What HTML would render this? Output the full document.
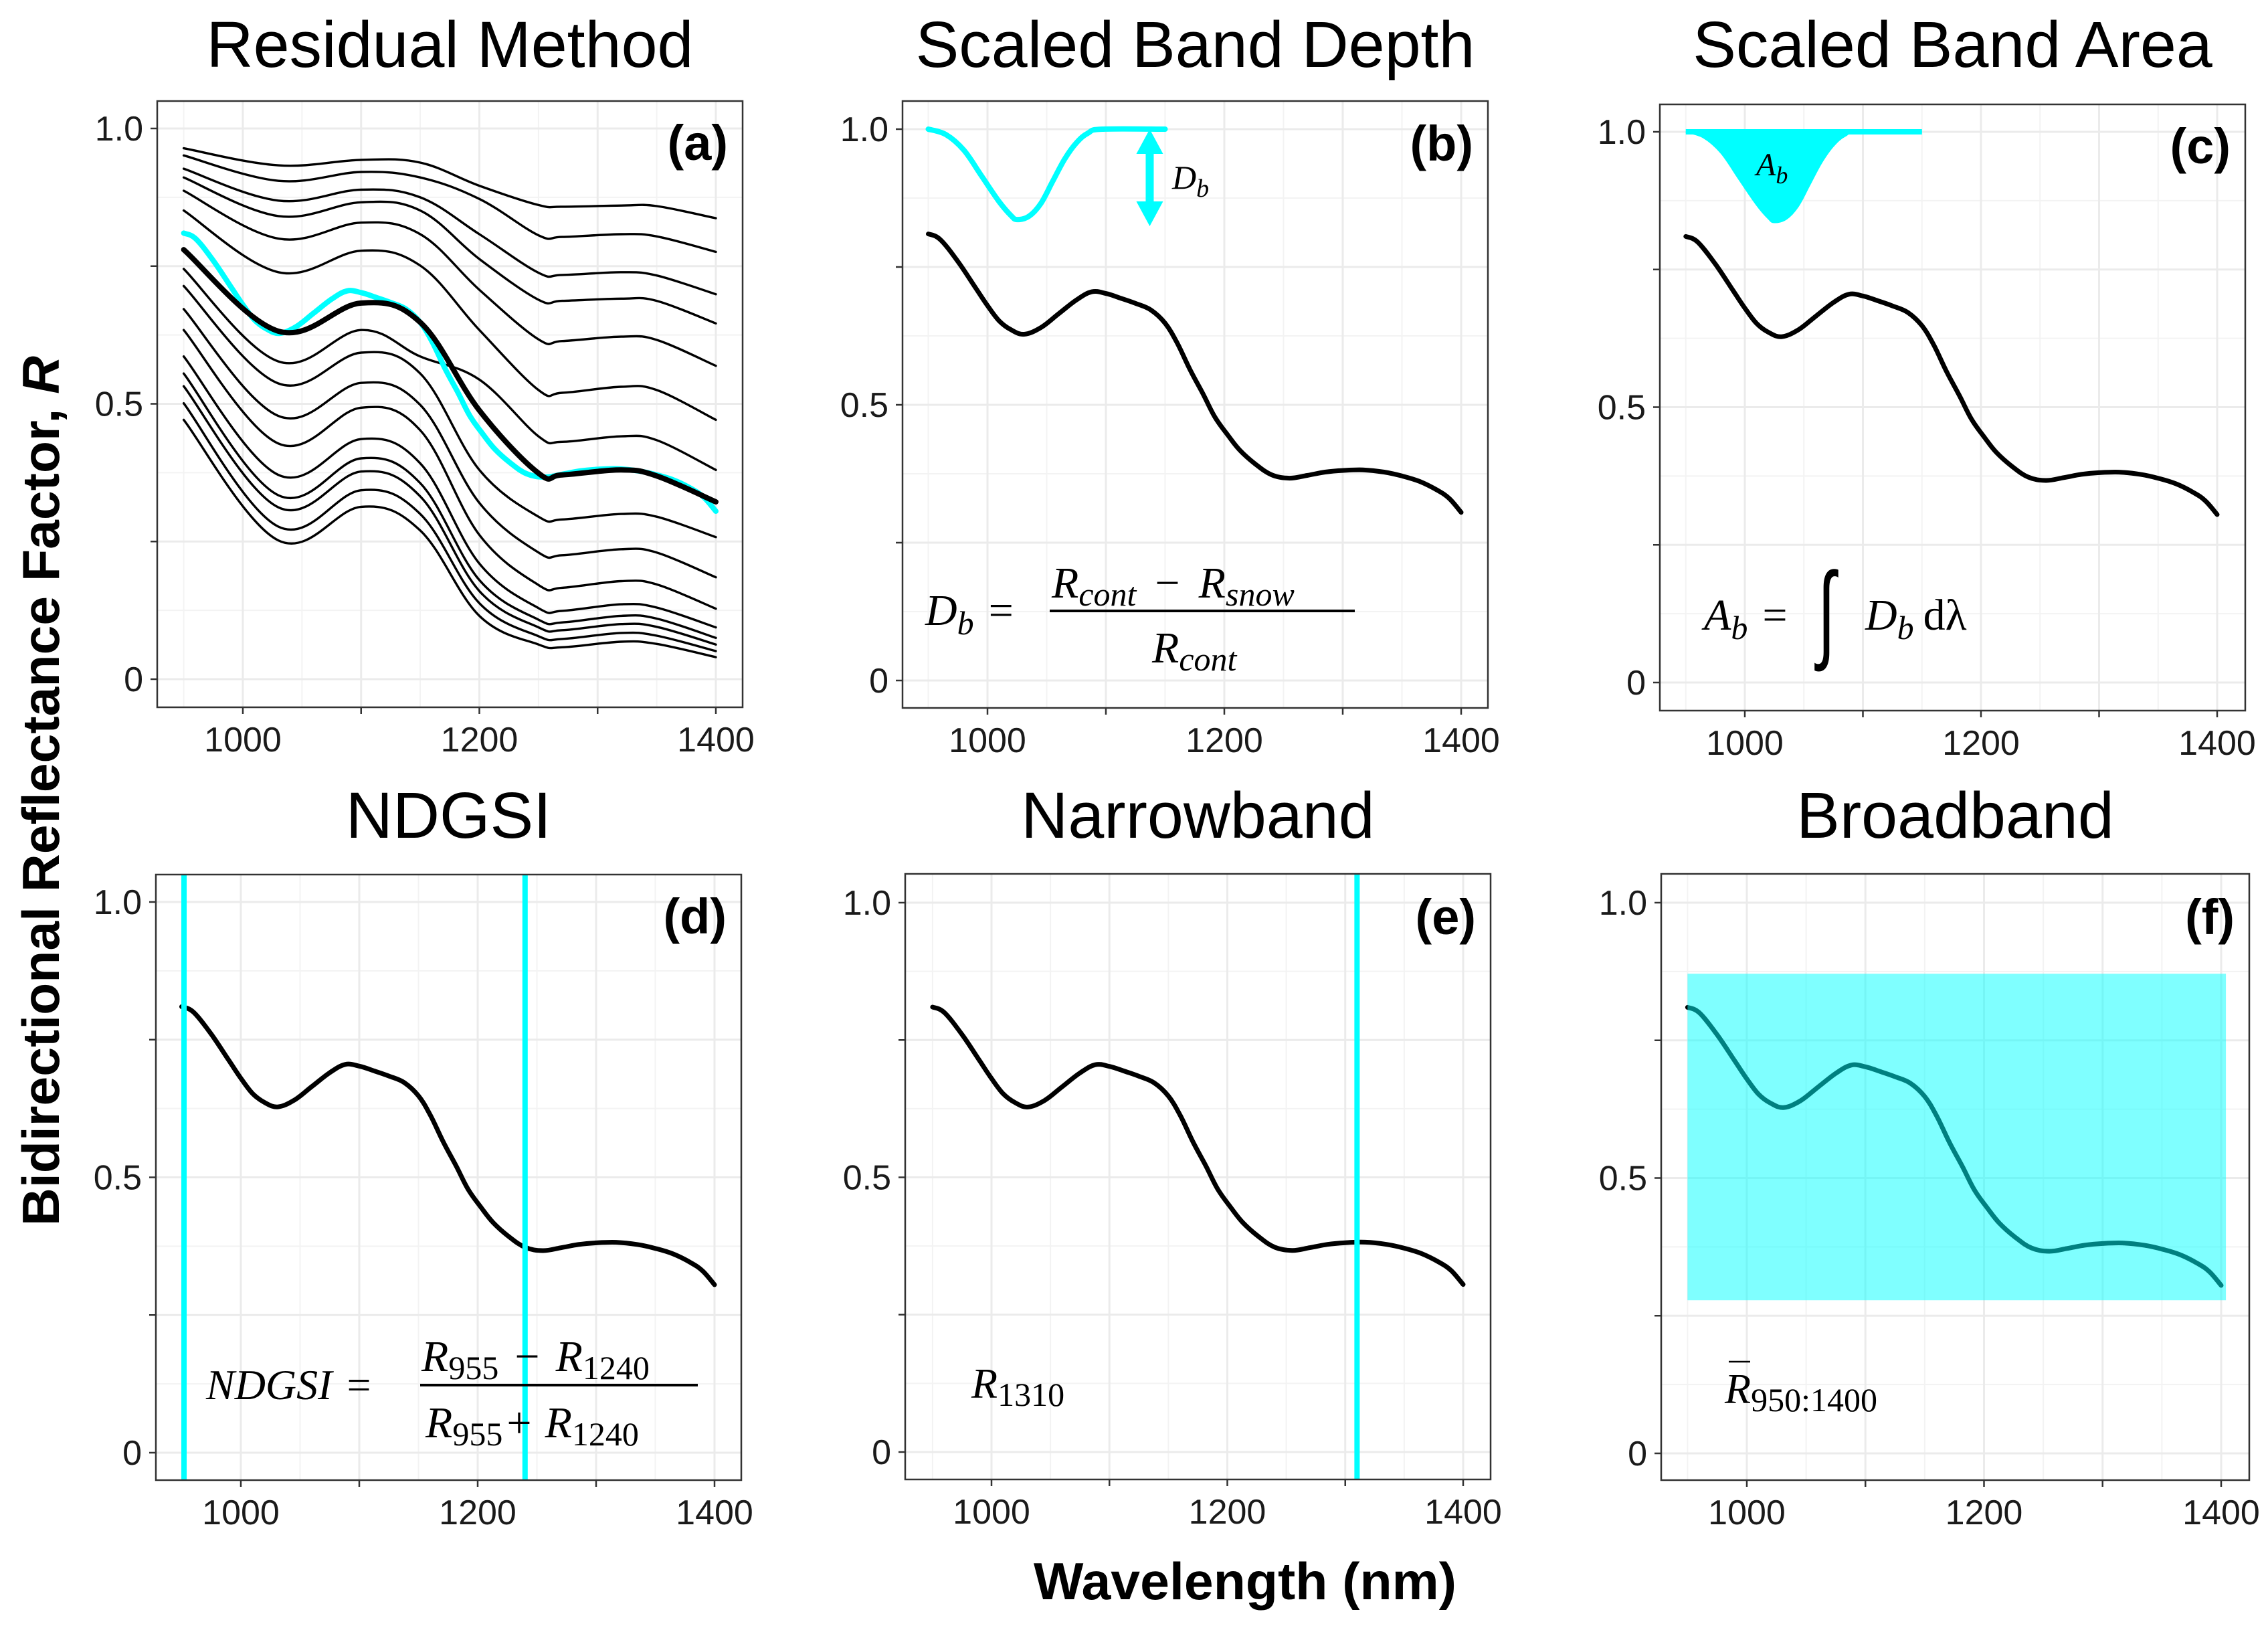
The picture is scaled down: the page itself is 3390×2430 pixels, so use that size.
<!DOCTYPE html>
<html><head><meta charset="utf-8">
<style>
html,body{margin:0;padding:0;background:#fff;}
svg{display:block;}
text{font-family:"Liberation Sans",Arial,sans-serif;}
.math{font-family:"Liberation Serif","DejaVu Serif",serif;font-style:italic;}
</style></head>
<body>
<svg id="fig" width="3390" height="2430" viewBox="0 0 3390 2430" xmlns="http://www.w3.org/2000/svg">
<rect x="0" y="0" width="3390" height="2430" fill="#fff"/>
</svg>
<script>
// ---- data ----
const mainWl = [950,960,975,990,1000,1010,1020,1031,1045,1060,1075,1088,1100,1113,1125,1138,1150,1160,1171,1182,1192,1203,1213,1226,1240,1255,1270,1285,1300,1317,1335,1350,1365,1380,1390,1400];
const mainR  = [0.81,0.80,0.76,0.712,0.68,0.652,0.636,0.628,0.640,0.665,0.690,0.705,0.702,0.693,0.684,0.672,0.648,0.613,0.564,0.520,0.478,0.445,0.418,0.393,0.373,0.367,0.372,0.378,0.381,0.382,0.378,0.371,0.361,0.345,0.330,0.305];
const contWl = [950,965,980,995,1010,1020,1025,1035,1045,1055,1065,1075,1085,1097,1150];
const contR  = [1.0,0.99,0.962,0.915,0.868,0.843,0.836,0.842,0.865,0.905,0.945,0.975,0.993,1.0,1.0];
const arrowWl = [1137];
const arrowR = [1.0,0.824];
const resWl = [950,1030,1100,1150,1200,1250,1270,1320,1350,1400];
const resC1 = [.964,.933,.943,.938,.896,.861,.858,.860,.859,.837];
const resC2 = [.951,.905,.921,.911,.872,.806,.803,.808,.804,.776];
const resC3 = [.927,.869,.889,.875,.808,.738,.734,.739,.733,.699];
const resC4 = [.911,.841,.866,.851,.763,.689,.687,.691,.687,.646];
const resC5 = [.887,.800,.829,.808,.707,.617,.614,.622,.616,.569];
const resC6 = [.851,.739,.778,.751,.634,.525,.520,.531,.525,.471];
const resC7 = [.745,.577,.634,.586,.544,.441,.431,.441,.434,.380];
const resC8 = [.714,.537,.593,.555,.380,.295,.290,.300,.295,.258];
const resC9 = [.672,.478,.538,.498,.320,.230,.225,.236,.230,.185];
const resC10 = [.634,.428,.493,.452,.262,.171,.166,.178,.172,.128];
const resC11 = [.586,.371,.436,.392,.210,.129,.124,.136,.130,.094];
const resC12 = [.555,.334,.401,.356,.180,.108,.103,.115,.110,.075];
const resC13 = [.532,.312,.377,.332,.160,.094,.089,.100,.095,.063];
const resC14 = [.501,.277,.343,.300,.138,.078,.073,.084,.079,.051];
const resC15 = [.471,.252,.313,.270,.115,.063,.058,.068,.064,.040];
const resThick = [.780,.632,.683,.648,.488,.374,.371,.380,.369,.322];
const ndgsiLines = [952,1240];
const narrowLines = [1310];
const broadWl = [950,1404];
const broadR = [0.278,0.871];
const xTickVals = [1000,1100,1200,1300,1400];
const xTickLabels = ["1000","","1200","","1400"];
const yTickVals = [0,0.25,0.5,0.75,1.0];
const yTickLabels = ["0","","0.5","","1.0"];
const panelTitles = ["Residual Method","Scaled Band Depth","Scaled Band Area","NDGSI","Narrowband","Broadband"];
const panelTags = ["(a)","(b)","(c)","(d)","(e)","(f)"];

// ---- layout ----
const P = [
 {L:235,T:151,R:1110,B:1057,x0:363,x1:1070,y1:192,y0:1015},
 {L:1349,T:151,R:2224,B:1058,x0:1476,x1:2184,y1:193,y0:1017},
 {L:2481,T:156,R:3356,B:1062,x0:2608,x1:3314,y1:197,y0:1020},
 {L:233,T:1307,R:1108,B:2212,x0:360,x1:1068,y1:1348,y0:2171},
 {L:1353,T:1306,R:2228,B:2211,x0:1482,x1:2187,y1:1349,y0:2170},
 {L:2483,T:1306,R:3362,B:2212,x0:2611,x1:3320,y1:1349,y0:2172}
];
const svg = document.getElementById('fig');
const NS = 'http://www.w3.org/2000/svg';
function el(tag, attrs, parent){
  const e = document.createElementNS(NS, tag);
  for (const k in attrs) e.setAttribute(k, attrs[k]);
  (parent||svg).appendChild(e);
  return e;
}
function sx(p,v){ return p.x0 + (v-1000)*(p.x1-p.x0)/400; }
function sy(p,v){ return p.y0 - v*(p.y0-p.y1); }
function pathD(p, xs, ys){
  const pts = xs.map((x,i)=>[sx(p,x), sy(p,ys[i])]);
  let d = 'M'+pts[0][0].toFixed(1)+' '+pts[0][1].toFixed(1);
  for (let i=0;i<pts.length-1;i++){
    const p0=pts[Math.max(0,i-1)], p1=pts[i], p2=pts[i+1], p3=pts[Math.min(pts.length-1,i+2)];
    const t=0.18;
    const c1=[p1[0]+(p2[0]-p0[0])*t, p1[1]+(p2[1]-p0[1])*t];
    const c2=[p2[0]-(p3[0]-p1[0])*t, p2[1]-(p3[1]-p1[1])*t];
    d += ` C${c1[0].toFixed(1)} ${c1[1].toFixed(1)} ${c2[0].toFixed(1)} ${c2[1].toFixed(1)} ${p2[0].toFixed(1)} ${p2[1].toFixed(1)}`;
  }
  return d;
}

const groups = [];
P.forEach((p,i)=>{
  const g = el('g',{});
  
  
  groups.push(g);
  const cp = el('clipPath',{id:'clip'+i},g);
  el('rect',{x:p.L,y:p.T,width:p.R-p.L,height:p.B-p.T},cp);
  for (let v=950; v<=1400; v+=100){
    const l = el('line',{x1:sx(p,v),x2:sx(p,v),y1:p.T,y2:p.B,stroke:'#f3f3f3','stroke-width':2},g);
    
    
  }
  for (let v=0.125; v<1.1; v+=0.25){
    const l = el('line',{x1:p.L,x2:p.R,y1:sy(p,v),y2:sy(p,v),stroke:'#f3f3f3','stroke-width':2},g);
    
    
  }
  xTickVals.forEach(v=>{
    const l = el('line',{x1:sx(p,v),x2:sx(p,v),y1:p.T,y2:p.B,stroke:'#ebebeb','stroke-width':3},g);
    
    
  });
  yTickVals.forEach(v=>{
    const l = el('line',{x1:p.L,x2:p.R,y1:sy(p,v),y2:sy(p,v),stroke:'#ebebeb','stroke-width':3},g);
    
    
  });
  xTickVals.forEach((v,k)=>{
    const t = el('line',{x1:sx(p,v),x2:sx(p,v),y1:p.B,y2:p.B+10,stroke:'#333','stroke-width':2.5},g);
    
    
    if (xTickLabels[k]){
      const tx = el('text',{x:sx(p,v),y:p.B+66,'text-anchor':'middle','font-size':52,fill:'#1a1a1a'},g);
      tx.textContent = xTickLabels[k];
      
      
    }
  });
  yTickVals.forEach((v,k)=>{
    const t = el('line',{x1:p.L-10,x2:p.L,y1:sy(p,v),y2:sy(p,v),stroke:'#333','stroke-width':2.5},g);
    
    
    if (yTickLabels[k]){
      const tx = el('text',{x:p.L-21,y:sy(p,v)+18,'text-anchor':'end','font-size':52,fill:'#1a1a1a'},g);
      tx.textContent = yTickLabels[k];
      
      
    }
  });
  const tt = el('text',{x:(p.L+p.R)/2,y:i<3?100:1252,'text-anchor':'middle','font-size':97,fill:'#000'},g);
  tt.textContent = panelTitles[i];
  
  
});

function addPath(i, xs, ys, stroke, w, name){
  const p = P[i];
  const e = el('path',{d:pathD(p,xs,ys),fill:'none',stroke:stroke,'stroke-width':w,'stroke-linejoin':'round','stroke-linecap':'round','clip-path':'url(#clip'+i+')'},groups[i]);
  
  
  return e;
}

// panel a
const resCurves = [resC1,resC2,resC3,resC4,resC5,resC6,resC7,resC8,resC9,resC10,resC11,resC12,resC13,resC14,resC15];
resCurves.forEach((c)=>{ addPath(0,resWl,c,'#000',3.4,'spectrum-line'); });
addPath(0,mainWl,mainR,'#00ffff',8,'mean-spectrum-cyan');
addPath(0,resWl,resThick,'#000',8,'reference-spectrum');

// panel b
addPath(1,contWl,contR,'#00ffff',8,'continuum-removed-line');
addPath(1,mainWl,mainR,'#000',7,'spectrum-line');
(function(){
  const p=P[1], ax=sx(p,arrowWl[0]), yt=sy(p,arrowR[0]), yb=sy(p,arrowR[1]);
  const hh=37, hw=20;
  const a = el('path',{d:`M${ax} ${yt} L${ax-hw} ${yt+hh} L${ax-6} ${yt+hh} L${ax-6} ${yb-hh} L${ax-hw} ${yb-hh} L${ax} ${yb} L${ax+hw} ${yb-hh} L${ax+6} ${yb-hh} L${ax+6} ${yt+hh} L${ax+hw} ${yt+hh} Z`,fill:'#00ffff'},groups[1]);
  
  
})();

// panel c
(function(){
  const p=P[2];
  const d = pathD(p,contWl,contR)+` L${sx(p,contWl[0])} ${sy(p,1)} Z`;
  const a = el('path',{d:d,fill:'#00ffff',stroke:'#00ffff','stroke-width':3},groups[2]);
  
  
  const l = el('line',{x1:sx(p,contWl[0]),x2:sx(p,contWl[contWl.length-1]),y1:sy(p,1),y2:sy(p,1),stroke:'#00ffff','stroke-width':8},groups[2]);
  
  
})();
addPath(2,mainWl,mainR,'#000',7,'spectrum-line');

// panel d
addPath(3,mainWl,mainR,'#000',7,'spectrum-line');
ndgsiLines.forEach(v=>{
  const p=P[3];
  const l = el('line',{x1:sx(p,v),x2:sx(p,v),y1:p.T,y2:p.B,stroke:'#00ffff','stroke-width':8},groups[3]);
  
  
});
// panel e
addPath(4,mainWl,mainR,'#000',7,'spectrum-line');
narrowLines.forEach(v=>{
  const p=P[4];
  const l = el('line',{x1:sx(p,v),x2:sx(p,v),y1:p.T,y2:p.B,stroke:'#00ffff','stroke-width':8},groups[4]);
  
  
});
// panel f
addPath(5,mainWl,mainR,'#000',7,'spectrum-line');
(function(){
  const p=P[5];
  const r = el('rect',{x:sx(p,broadWl[0]),y:sy(p,broadR[1]),width:sx(p,broadWl[1])-sx(p,broadWl[0]),height:sy(p,broadR[0])-sy(p,broadR[1]),fill:'#00ffff','fill-opacity':0.5},groups[5]);
  
  
})();

P.forEach((p,i)=>{
  const b = el('rect',{x:p.L,y:p.T,width:p.R-p.L,height:p.B-p.T,fill:'none',stroke:'#333','stroke-width':2.5},groups[i]);
  
  
  const t = el('text',{x:p.R-22,y:p.y1+47,'text-anchor':'end','font-size':74,'font-weight':'bold',fill:'#000'},groups[i]);
  t.textContent = panelTags[i];
  
  
});
</script>

<svg style="position:absolute;left:0;top:0" width="3390" height="2430" viewBox="0 0 3390 2430" xmlns="http://www.w3.org/2000/svg">
  <g><text class="math" x="1752" y="282" font-size="50">D<tspan font-size="38" dy="12">b</tspan></text></g>
  <g><text class="math" x="2625" y="262" font-size="48">A<tspan font-size="36" dy="12">b</tspan></text></g>

  <g>
    <text class="math" x="1383" y="934" font-size="66">D<tspan font-size="50" dy="14">b</tspan><tspan dy="-14" font-style="normal" dx="22">=</tspan></text>
    <text class="math" x="1572" y="893" font-size="66">R<tspan font-size="50" dy="12">cont</tspan><tspan dy="-12" font-style="normal" dx="28">−</tspan><tspan dx="28">R</tspan><tspan font-size="50" dy="12">snow</tspan></text>
    <line x1="1569" y1="913" x2="2025" y2="913" stroke="#000" stroke-width="4"/>
    <text class="math" x="1722" y="990" font-size="66">R<tspan font-size="50" dy="12">cont</tspan></text>
  </g>

  <g>
    <text class="math" x="2547" y="941" font-size="66">A<tspan font-size="50" dy="14">b</tspan><tspan dy="-14" font-style="normal" dx="22">=</tspan></text>
    <text x="2708" y="968" font-size="160" font-weight="normal" font-style="italic" font-family="DejaVu Serif, serif" transform="translate(2730,920) scale(0.6,1) translate(-2730,-920)">∫</text>
    <text class="math" x="2788" y="941" font-size="66">D<tspan font-size="50" dy="14">b</tspan><tspan dy="-14" font-style="normal" dx="14">dλ</tspan></text>
  </g>

  <g>
    <text class="math" x="308" y="2091" font-size="64">NDGSI<tspan font-style="normal" dx="22">=</tspan></text>
    <text class="math" x="630" y="2049" font-size="66">R<tspan font-style="normal" font-size="50" dy="12">955</tspan><tspan dy="-12" font-style="normal" dx="24">−</tspan><tspan dx="24">R</tspan><tspan font-style="normal" font-size="50" dy="12">1240</tspan></text>
    <line x1="628" y1="2070" x2="1043" y2="2070" stroke="#000" stroke-width="4"/>
    <text class="math" x="636" y="2148" font-size="66">R<tspan font-style="normal" font-size="50" dy="12">955</tspan><tspan dy="-12" font-style="normal" dx="6">+</tspan><tspan dx="20">R</tspan><tspan font-style="normal" font-size="50" dy="12">1240</tspan></text>
  </g>

  <text class="math" x="1452" y="2089" font-size="64">R<tspan font-style="normal" font-size="50" dy="12">1310</tspan></text>
  <g>
    <line x1="2584" y1="2035" x2="2616" y2="2035" stroke="#000" stroke-width="2.5"/>
    <text class="math" x="2578" y="2097" font-size="64">R<tspan font-style="normal" font-size="50" dy="12">950:1400</tspan></text>
  </g>

  <text transform="translate(88,1182) rotate(-90)" text-anchor="middle" font-size="78" font-weight="bold" textLength="1300" lengthAdjust="spacingAndGlyphs" font-family="Liberation Sans, Arial, sans-serif">Bidirectional Reflectance Factor, <tspan font-style="italic">R</tspan></text>
  <text x="1861" y="2390" text-anchor="middle" font-size="78" font-weight="bold" textLength="632" lengthAdjust="spacingAndGlyphs" font-family="Liberation Sans, Arial, sans-serif">Wavelength (nm)</text>
</svg>
</body></html>
